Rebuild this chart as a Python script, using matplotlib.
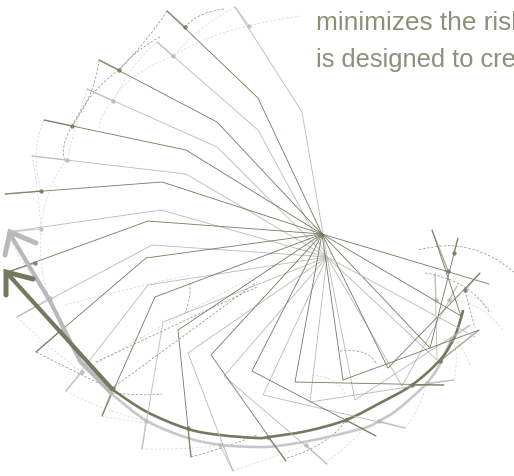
import matplotlib
matplotlib.use("Agg")
import matplotlib.pyplot as plt
from matplotlib.path import Path
from matplotlib.patches import PathPatch

DARK = '#76785f'
GREY = '#b9b9b9'

dark_hub = (322, 234)
grey_hub = (327, 257)

# spokes in pixels: elbow, dot, tip
dark_elbows = [(258, 98), (217, 122), (186, 150), (162, 182), (148, 221), (146, 258), (155, 297),
               (178, 330), (211, 355), (252, 371), (295, 382), (343, 380), (388, 368), (430, 348), (461, 316)]
dark_dots = [(185, 27), (119, 70), (72, 126), (41, 191), (35, 263), (60, 331), (113, 388),
             (188, 428), (268, 437), (346, 420), (412, 385), (440, 361), (465, 290), (454, 253), (448, 271)]
dark_tips = [(167, 11), (99, 60), (44, 120), (5, 194), (8, 272), (36, 352), (102, 416),
             (191, 457), (286, 461), (376, 436), (444, 385), (479, 330), (480, 273), (458, 238), (432, 230)]

grey_elbows = [(302, 112), (258, 130), (217, 147), (186, 174), (161, 210), (152, 245), (148, 285),
               (163, 322), (188, 353), (224, 376), (263, 395), (310, 402), (355, 400), (402, 386), (437, 360)]
grey_dots = [(249, 26), (173, 56), (113, 101), (67, 160), (41, 229), (50, 298), (82, 372),
             (146, 421), (220, 445), (306, 445), (379, 421), (427, 383), (451, 339), (449, 300), (436, 300)]
grey_tips = [(235, 7), (157, 42), (87, 89), (32, 156), (8, 232), (17, 317), (66, 391),
             (142, 449), (233, 471), (327, 464), (405, 428), (454, 380), (470, 325), (457, 286), (435, 273)]

dark_open = [(489, 284)]  # straight lines out of the hub
grey_open = [(475, 337)]

# thick curves with arrow heads
dark_shaft = [(6, 272), (113, 390)]
dark_curve = [(113, 390), (147, 412), (188, 429), (220, 435), (257, 438), (269, 437), (307, 431),
              (346, 420), (380, 403), (412, 385), (440, 360), (454, 338), (461, 318), (463, 310)]
grey_shaft = [(10, 234), (50, 301), (80, 361), (113, 395)]
grey_curve = [(113, 395), (147, 421), (188, 438), (222, 445), (257, 447),
              (277, 446), (314, 440), (364, 428), (379, 421), (397, 410), (424, 386), (439, 366), (452, 338)]
dark_head = [(33, 279), (6, 272), (6, 295)]
grey_head = [(36, 243), (10, 232), (5, 255)]

# dashed arcs: start, control, end
dark_arcs = [
    [(224, 9), (198, 12), (185, 27)], [(167, 11), (150, 38), (119, 70)], [(160, 37), (135, 50), (119, 70)],
    [(99, 60), (95, 95), (72, 126)], [(119, 70), (90, 90), (72, 126)], [(72, 126), (60, 145), (65, 162)],
    [(36, 352), (75, 372), (113, 390)], [(115, 393), (140, 396), (162, 394)], [(191, 457), (225, 448), (257, 435)],
    [(115, 386), (185, 335), (257, 282)], [(96, 362), (175, 325), (257, 287)], [(190, 283), (191, 300), (185, 313)],
    [(419, 250), (470, 235), (514, 272)], [(425, 273), (470, 280), (490, 313)], [(340, 351), (368, 348), (376, 363)],
    [(287, 458), (330, 445), (346, 420)], [(465, 291), (470, 310), (475, 328)],
]
grey_arcs = [
    [(301, 16), (270, 20), (249, 26)], [(235, 7), (200, 25), (173, 56)], [(249, 26), (205, 35), (173, 56)],
    [(157, 42), (130, 65), (113, 101)], [(173, 56), (125, 75), (113, 101)], [(113, 101), (100, 115), (99, 128)],
    [(87, 89), (75, 125), (67, 160)], [(44, 120), (30, 150), (41, 191)], [(67, 160), (45, 185), (41, 229)],
    [(32, 156), (38, 185), (41, 229)], [(8, 232), (20, 265), (50, 298)], [(41, 229), (38, 270), (50, 298)],
    [(17, 317), (45, 345), (82, 372)], [(66, 391), (100, 410), (146, 421)], [(102, 416), (120, 420), (142, 422)],
    [(142, 449), (190, 450), (220, 445)], [(233, 471), (280, 455), (306, 445)], [(327, 461), (350, 445), (364, 428)],
    [(65, 305), (120, 290), (190, 275)], [(82, 372), (170, 320), (257, 275)], [(405, 428), (420, 410), (427, 383)],
    [(454, 380), (460, 350), (451, 339)], [(470, 365), (460, 340), (451, 339)], [(503, 330), (480, 300), (449, 300)],
    [(492, 312), (470, 285), (449, 300)], [(312, 375), (340, 378), (345, 395)],
]

# both lines run off the right edge in the reference
line1 = 'minimizes the risk'
line2 = 'is designed to cre'

fig = plt.figure(figsize=(5.14, 4.76), dpi=100)
ax = fig.add_axes([0, 0, 1, 1])
ax.set_xlim(0, 514)
ax.set_ylim(476, 0)
ax.axis('off')


def smooth_path(pts):
    # bezier through the read points, only so the stroke has no corners
    verts = [pts[0]]
    codes = [Path.MOVETO]
    for i in range(len(pts) - 1):
        p0 = pts[max(i - 1, 0)]
        p1 = pts[i]
        p2 = pts[i + 1]
        p3 = pts[min(i + 2, len(pts) - 1)]
        c1 = (p1[0] + (p2[0] - p0[0]) / 6, p1[1] + (p2[1] - p0[1]) / 6)
        c2 = (p2[0] - (p3[0] - p1[0]) / 6, p2[1] - (p3[1] - p1[1]) / 6)
        verts += [c1, c2, p2]
        codes += [Path.CURVE4] * 3
    return Path(verts, codes)


def draw_arcs(arcs, color, alpha, lw):
    for a in arcs:
        p = Path(a, [Path.MOVETO, Path.CURVE3, Path.CURVE3])
        ax.add_patch(PathPatch(p, fill=False, ec=color, lw=lw, ls=(0, (3.5, 2.5)), alpha=alpha))


def draw_spokes(hub, elbows, dots, tips, color):
    for e, d, t in zip(elbows, dots, tips):
        ax.plot([hub[0], e[0], t[0]], [hub[1], e[1], t[1]], color=color, lw=0.6, solid_joinstyle='miter')
        ax.plot([d[0], t[0]], [d[1], t[1]], color=color, lw=1.1, alpha=0.6, solid_capstyle='butt')
        ax.plot(d[0], d[1], 'o', ms=3.2, color=color, mec='none', alpha=0.85)


draw_arcs(grey_arcs, GREY, 0.6, 0.5)
draw_arcs(dark_arcs, DARK, 0.85, 0.5)

draw_spokes(grey_hub, grey_elbows, grey_dots, grey_tips, GREY)
draw_spokes(dark_hub, dark_elbows, dark_dots, dark_tips, DARK)
for t in dark_open:
    ax.plot([dark_hub[0], t[0]], [dark_hub[1], t[1]], color=DARK, lw=0.6)
for t in grey_open:
    ax.plot([grey_hub[0], t[0]], [grey_hub[1], t[1]], color=GREY, lw=0.6)

ax.plot(*zip(*grey_shaft), color=GREY, lw=3.0, solid_capstyle='butt')
ax.add_patch(PathPatch(smooth_path(grey_curve), fill=False, ec='#c8c8c8', lw=1.9))
ax.plot(*zip(*grey_head), color=GREY, lw=3.6, solid_capstyle='round', solid_joinstyle='miter')
ax.plot(*zip(*dark_shaft), color=DARK, lw=3.0, solid_capstyle='butt')
ax.add_patch(PathPatch(smooth_path(dark_curve), fill=False, ec=DARK, lw=1.9))
ax.plot(*zip(*dark_head), color=DARK, lw=3.6, solid_capstyle='round', solid_joinstyle='miter')

ax.text(316, 30, line1, fontsize=18.9, color='#8d8f7a', family='Liberation Sans', va='baseline')
ax.text(316, 67, line2, fontsize=18.3, color='#8d8f7a', family='Liberation Sans', va='baseline')

fig.savefig('out.png', dpi=100)
